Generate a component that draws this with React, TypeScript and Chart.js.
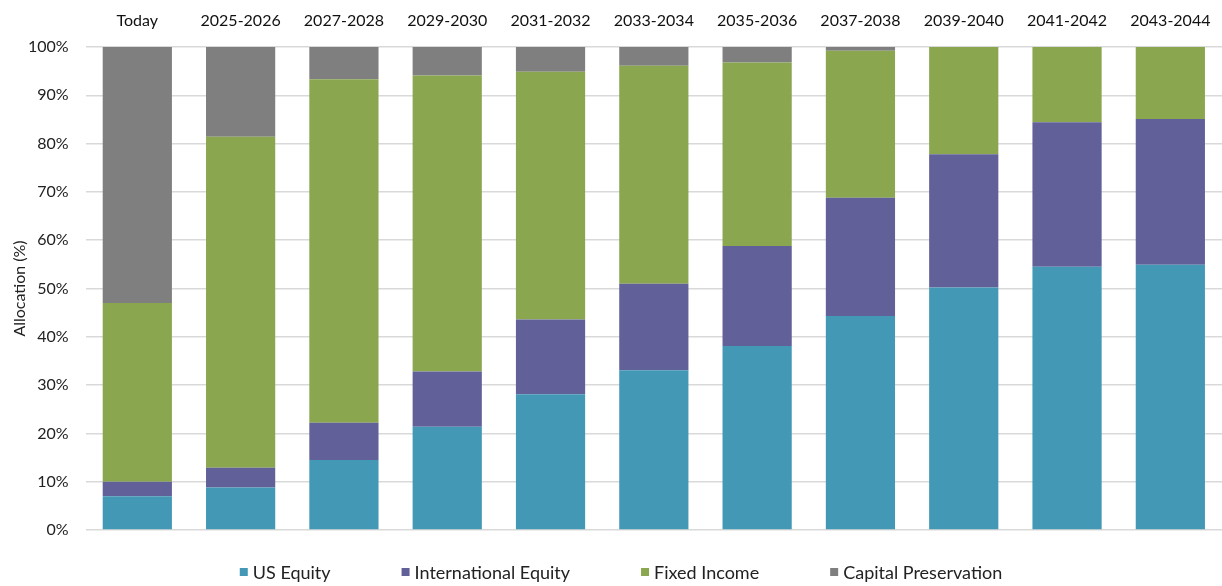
import React, { useEffect, useRef } from "react";
import { Chart, registerables } from "chart.js";

Chart.register(...registerables);

const categories = ["Today", "2025-2026", "2027-2028", "2029-2030", "2031-2032", "2033-2034", "2035-2036", "2037-2038", "2039-2040", "2041-2042", "2043-2044"];
const usEquity = [7, 8.8, 14.5, 21.4, 28.1, 33.1, 38.1, 44.3, 50.2, 54.5, 54.9];
const intlEquity = [3, 4.1, 7.7, 11.4, 15.5, 17.9, 20.7, 24.5, 27.6, 29.9, 30.2];
const fixedIncome = [37, 68.5, 71.1, 61.3, 51.3, 45.1, 38, 30.4, 22.2, 15.6, 14.9];
const capitalPreservation = [53, 18.6, 6.7, 5.9, 5.1, 3.9, 3.2, 0.8, 0, 0, 0];

const FONT = "Lato, 'Open Sans', sans-serif";

const customLegend = {
  id: "customLegend",
  afterDraw(chart: any) {
    const ctx = chart.ctx as CanvasRenderingContext2D;
    const ds = chart.data.datasets;
    ctx.save();
    ctx.font = `18px ${FONT}`;
    const box = 8, gapBox = 5, gapItem = 71;
    const widths = ds.map((d: any) => ctx.measureText(d.label).width);
    const total = widths.reduce((a: number, w: number) => a + box + gapBox + w, 0) + gapItem * (ds.length - 1);
    let x = 621 - total / 2;
    const y = 572;
    ctx.textBaseline = "middle";
    ds.forEach((d: any, i: number) => {
      ctx.fillStyle = d.backgroundColor;
      ctx.fillRect(x, y - box / 2, box, box);
      x += box + gapBox;
      ctx.fillStyle = "#222";
      ctx.fillText(d.label, x, y + 1);
      x += widths[i] + gapItem;
    });
    ctx.restore();
  },
};

export default function App() {
  const ref = useRef<HTMLCanvasElement>(null);
  useEffect(() => {
    if (!ref.current) return;
    const mk = (label: string, data: number[], color: string) => ({
      label,
      data,
      backgroundColor: color,
      borderWidth: 0,
      barPercentage: 0.67,
      categoryPercentage: 1,
    });
    const chart = new Chart(ref.current, {
      type: "bar",
      data: {
        labels: categories,
        datasets: [
          mk("US Equity", usEquity, "#4399b5"),
          mk("International Equity", intlEquity, "#626099"),
          mk("Fixed Income", fixedIncome, "#8aa750"),
          mk("Capital Preservation", capitalPreservation, "#7f7f7f"),
        ],
      },
      options: {
        animation: false,
        responsive: false,
        layout: { padding: { top: -5, right: 0, bottom: 56, left: 0 } },
        plugins: {
          tooltip: { enabled: false },
          legend: { display: false },
        },
        scales: {
          x: {
            stacked: true,
            position: "top",
            grid: { display: false, drawTicks: false },
            border: { display: false },
            ticks: { color: "#111", font: { family: FONT, size: 16, lineHeight: 1 }, padding: 18, maxRotation: 0 },
            afterFit: (scale: any) => {
              scale.paddingRight = 0;
              scale.paddingLeft = 0;
            },
          },
          y: {
            stacked: true,
            min: 0,
            max: 100,
            ticks: {
              stepSize: 10,
              padding: 17,
              color: "#222",
              font: { family: FONT, size: 16 },
              callback: (v: any) => v + "%",
            },
            grid: { color: "#d9d9d9", lineWidth: 1.5, drawTicks: false },
            border: { display: false },
            title: {
              display: true,
              text: "Allocation (%)",
              color: "#222",
              font: { family: FONT, size: 16, lineHeight: 1 },
              padding: { top: 12, bottom: -17 },
            },
          },
        },
      },
      plugins: [customLegend],
    });
    return () => chart.destroy();
  }, []);
  return (
    <div style={{ position: "absolute", left: 0, top: 0, width: 1222, height: 586, background: "#fff" }}>
      <canvas ref={ref} width={1222} height={586} />
    </div>
  );
}
